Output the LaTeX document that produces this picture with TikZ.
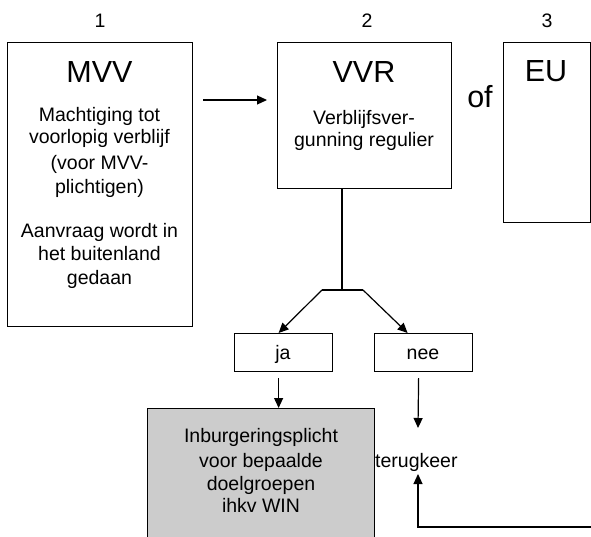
\documentclass[tikz,border=0pt]{standalone}
\usepackage{fontspec}
\setmainfont{Liberation Sans}
\usetikzlibrary{arrows.meta,calc}
\definecolor{boxgray}{RGB}{204,204,204}
\tikzset{
  box/.style={draw, line width=1.2pt, inner sep=0pt, anchor=north west},
  txt/.style={anchor=base, inner sep=0pt, font=\fontsize{19.5}{23}\selectfont},
  ttl/.style={anchor=base, inner sep=0pt, font=\fontsize{30.5}{34}\selectfont},
  con/.style={line width=1.2pt},
  arr/.style={line width=1.2pt, -{Triangle[length=10pt,width=9pt]}}
}
\begin{document}
\begin{tikzpicture}[x=1pt,y=-1pt]
\useasboundingbox (0,0) rectangle (591,537);
\clip (0,0) rectangle (591,537);
% boxes
\node[box, minimum width=185pt, minimum height=284pt] (mvv) at (7,42) {};
\node[box, minimum width=174pt, minimum height=146pt] (vvr) at (277,42) {};
\node[box, minimum width=87pt, minimum height=180pt] (eu) at (503,42) {};
\node[box, minimum width=98pt, minimum height=38pt] (ja) at (234,333) {};
\node[box, minimum width=98pt, minimum height=38pt] (nee) at (374,333) {};
\node[box, fill=boxgray, minimum width=227pt, minimum height=150pt] (gray) at (147,408) {};
% numbers
\node[txt] (n1) at (100,28) {1};
\node[txt] (n2) at (367,28) {2};
\node[txt] (n3) at (547,28) {3};
% MVV texts
\node[ttl] (mvvt) at (99.5,83) {MVV};
\node[txt] (m1) at (99.5,122) {Machtiging tot};
\node[txt] (m2) at (99.5,144) {voorlopig verblijf};
\node[txt] (m3) at (99.5,170) {(voor MVV-};
\node[txt] (m4) at (99.5,194) {plichtigen)};
\node[txt] (m5) at (99.5,237) {Aanvraag wordt in};
\node[txt] (m6) at (99.5,260) {het buitenland};
\node[txt] (m7) at (99.5,284) {gedaan};
% VVR texts
\node[ttl] (vvrt) at (364,83) {VVR};
\node[txt] (v1) at (364,125) {Verblijfsver-};
\node[txt] (v2) at (364,147) {gunning regulier};
% of / EU
\node[ttl] (of) at (480,108) {of};
\node[ttl] (eut) at (546,82) {EU};
% ja / nee
\node[txt] (jat) at (283,359) {ja};
\node[txt] (neet) at (423,359) {nee};
% gray texts
\node[txt] (g1) at (261,442) {Inburgeringsplicht};
\node[txt] (g2) at (261,467) {voor bepaalde};
\node[txt] (g3) at (261,490) {doelgroepen};
\node[txt] (g4) at (261,512) {ihkv WIN};
% terugkeer
\node[txt, anchor=base west] (terug) at (375,467) {terugkeer};
% connectors
\draw[arr] ($(mvv.north east)+(10,58)$) -- ($(vvr.north west)+(-10,58)$);
\coordinate (split) at (342,290);
\coordinate (bl) at (322,290);
\coordinate (br) at (363,290);
\draw[con] (vvr.south -| split) -- (split);
\draw[con] (bl) -- (br);
\draw[arr] (bl) -- ($(ja.north)+(-5,0)$);
\draw[arr] (br) -- ($(nee.north)+(-16,0)$);
\coordinate (jas) at ($(ja.south)+(-5,6)$);
\draw[arr] (jas) -- (jas |- gray.north);
\coordinate (nees) at ($(nee.south)+(-5,6)$);
\coordinate (tdown) at (418,428);
\draw[arr] (nees) -- (tdown);
\coordinate (ret) at (595,527);
\coordinate (tup) at (418,474);
\draw[arr] (ret) -| (tup);
\end{tikzpicture}
\end{document}
